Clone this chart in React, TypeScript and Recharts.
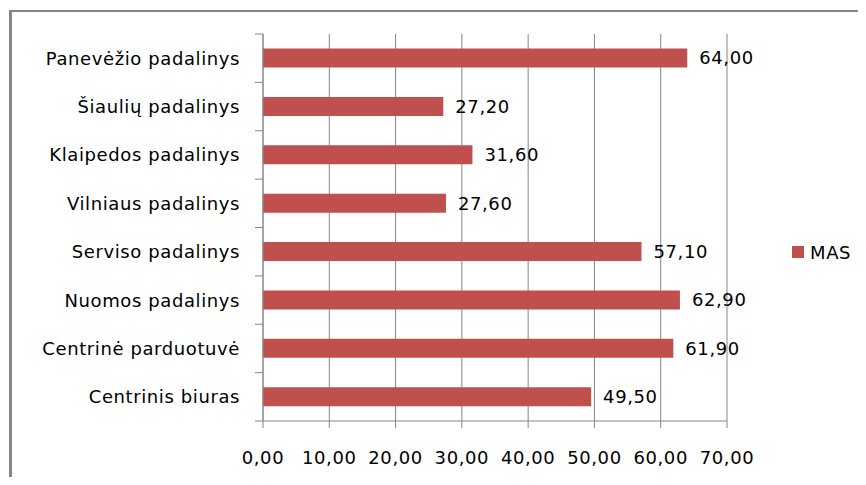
import React from 'react';
import { BarChart, Bar, XAxis, YAxis, CartesianGrid, Legend, LabelList } from 'recharts';

// Branch names (top to bottom) and their MAS values
const categories = [
  'Panevėžio padalinys',
  'Šiaulių padalinys',
  'Klaipedos padalinys',
  'Vilniaus padalinys',
  'Serviso padalinys',
  'Nuomos padalinys',
  'Centrinė parduotuvė',
  'Centrinis biuras',
];
const masValues = [64.0, 27.2, 31.6, 27.6, 57.1, 62.9, 61.9, 49.5];
const seriesName = 'MAS';
const valueTicks = [0, 10, 20, 30, 40, 50, 60, 70];

const data = categories.map((name, i) => ({ name, value: masValues[i] }));

const BAR_COLOR = '#C0504D';
const LINE_COLOR = '#868686';
const FONT = '"DejaVu Sans", sans-serif';
const FONT_SIZE = 18;
const SPACING = 0.6;

const fmt = (v: number) => Number(v).toFixed(2).replace('.', ',');

// Category labels with Excel-style tick marks at the band boundaries
const CategoryTick = (props: any) => {
  const { x, y, payload, index, visibleTicksCount } = props;
  const half = payload?.offset ?? 0;
  return (
    <g>
      <line x1={x - 8} x2={x} y1={y - half} y2={y - half} stroke={LINE_COLOR} strokeWidth={1} />
      {index === visibleTicksCount - 1 && (
        <line x1={x - 8} x2={x} y1={y + half} y2={y + half} stroke={LINE_COLOR} strokeWidth={1} />
      )}
      <text
        x={x - 23}
        y={y}
        textAnchor="end"
        dominantBaseline="central"
        fill="#000"
        fontFamily={FONT}
        fontSize={FONT_SIZE}
        letterSpacing={SPACING}
      >
        {payload.value}
      </text>
    </g>
  );
};

const ValueTick = (props: any) => {
  const { x, y, payload } = props;
  return (
    <text
      x={x}
      y={y + 27}
      textAnchor="middle"
      dominantBaseline="central"
      fill="#000"
      fontFamily={FONT}
      fontSize={FONT_SIZE}
      letterSpacing={SPACING}
    >
      {fmt(payload.value)}
    </text>
  );
};

const LegendContent = (props: any) => {
  const items = props.payload || [];
  return (
    <div>
      {items.map((it: any) => (
        <div key={it.value} style={{ display: 'flex', alignItems: 'center', height: 22 }}>
          <span style={{ display: 'inline-block', width: 12, height: 12, background: BAR_COLOR, marginRight: 6 }} />
          <span style={{ fontFamily: FONT, fontSize: FONT_SIZE, letterSpacing: SPACING, color: '#000' }}>{it.value}</span>
        </div>
      ))}
    </div>
  );
};

export default function App() {
  return (
    <div style={{ position: 'relative', width: 850, height: 469 }}>
      <div
        style={{
          position: 'absolute',
          left: 1,
          top: 2,
          width: 857,
          height: 475,
          boxSizing: 'border-box',
          borderTop: `2px solid ${LINE_COLOR}`,
          borderLeft: `3px solid ${LINE_COLOR}`,
        }}
      />
      <BarChart
        width={850}
        height={469}
        data={data}
        layout="vertical"
        margin={{ top: 26, right: 131, bottom: 6, left: 5 }}
        barCategoryGap="30%"
      >
        <CartesianGrid horizontal={false} vertical={true} stroke={LINE_COLOR} strokeWidth={1} />
        <XAxis
          type="number"
          domain={[0, 70]}
          ticks={valueTicks}
          interval={0}
          height={50}
          axisLine={{ stroke: LINE_COLOR }}
          tickLine={{ stroke: LINE_COLOR }}
          tickSize={7}
          tick={<ValueTick />}
        />
        <YAxis
          type="category"
          dataKey="name"
          width={250}
          axisLine={{ stroke: LINE_COLOR }}
          tickLine={false}
          tickSize={0}
          tickMargin={0}
          interval={0}
          tick={<CategoryTick />}
        />
        <Legend
          layout="horizontal"
          align="center"
          verticalAlign="middle"
          wrapperStyle={{ left: 784, top: 233, width: 'auto', height: 'auto' }}
          content={<LegendContent />}
        />
        <Bar dataKey="value" name={seriesName} fill={BAR_COLOR} isAnimationActive={false}>
          <LabelList
            dataKey="value"
            position="right"
            offset={12}
            formatter={(v: any) => fmt(v)}
            fill="#000"
            fontFamily={FONT}
            fontSize={FONT_SIZE}
            letterSpacing={SPACING}
          />
        </Bar>
      </BarChart>
    </div>
  );
}
